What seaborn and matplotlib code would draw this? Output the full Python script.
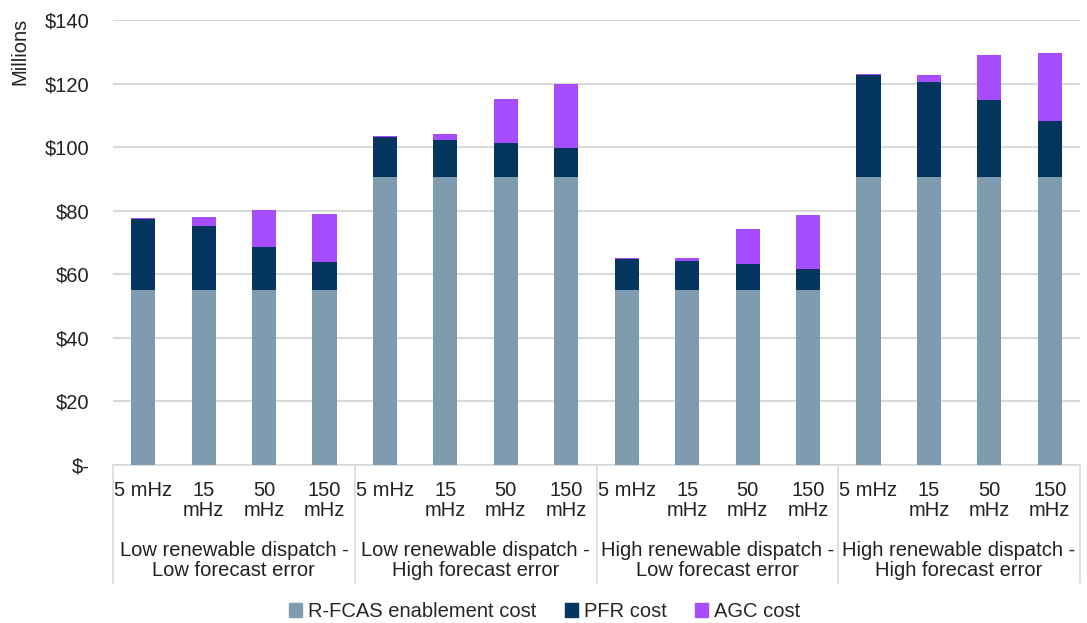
import pandas as pd
import numpy as np
import matplotlib
matplotlib.use("Agg")
import matplotlib.pyplot as plt
import seaborn as sns

# data ($ millions)
groups = ["Low renewable dispatch -\nLow forecast error",
          "Low renewable dispatch -\nHigh forecast error",
          "High renewable dispatch -\nLow forecast error",
          "High renewable dispatch -\nHigh forecast error"]
errors = ["5 mHz", "15\nmHz", "50\nmHz", "150\nmHz"]
rfcas = [55, 55, 55, 55, 90.7, 90.7, 90.7, 90.7,
         55, 55, 55, 55, 90.7, 90.7, 90.7, 90.7]
pfr = [22.4, 20.2, 13.7, 9.0, 12.5, 11.7, 10.6, 9.1,
       9.7, 9.2, 8.2, 6.7, 31.9, 29.8, 24.1, 17.6]
agc = [0.2, 2.9, 11.4, 15.1, 0.3, 1.7, 13.8, 20.0,
       0.3, 0.8, 11.2, 17.1, 0.3, 2.2, 14.2, 21.2]
yticks = [0, 20, 40, 60, 80, 100, 120, 140]
ytick_labels = ["$-", "$20", "$40", "$60", "$80", "$100", "$120", "$140"]

c_rfcas = "#7f9bb0"
c_pfr = "#04365f"
c_agc = "#a64dff"
fs = 14.5

sns.set_theme(style="white")
plt.rcParams["font.family"] = ["Liberation Sans", "DejaVu Sans"]
plt.rcParams["font.size"] = fs

df = pd.DataFrame({
    "key": [f"{g}|{e}" for g in range(len(groups)) for e in range(len(errors))],
    "rfcas": rfcas, "pfr": pfr, "agc": agc,
})
df["lvl2"] = df["rfcas"] + df["pfr"]
df["lvl3"] = df["lvl2"] + df["agc"]

fig, ax = plt.subplots(figsize=(10.87, 6.23), dpi=100)
fig.subplots_adjust(left=113 / 1087, right=1080 / 1087, top=1 - 20 / 623, bottom=1 - 465 / 623)

# stacked bars drawn as overlapping cumulative totals
for col, c in [("lvl3", c_agc), ("lvl2", c_pfr), ("rfcas", c_rfcas)]:
    sns.barplot(data=df, x="key", y=col, color=c, width=0.4, saturation=1, ax=ax,
                linewidth=0, zorder=3)

ax.set_xlim(-0.5, len(df) - 0.5)
ax.set_ylim(0, 140)
ax.set_yticks(yticks)
ax.set_yticklabels(ytick_labels)
ax.yaxis.grid(True, color="#d9d9d9", linewidth=1.5, zorder=0)
ax.set_axisbelow(True)
ax.tick_params(axis="y", length=0, pad=17, labelsize=fs, colors="#222222")
ax.set_xticks([])
ax.set_xlabel("")
ax.set_ylabel("")
for s in ["top", "right", "left"]:
    ax.spines[s].set_visible(False)
ax.spines["bottom"].set_color("#d9d9d9")
ax.spines["bottom"].set_linewidth(1.2)

# multi-level category axis
ah = 445.0
tr = ax.get_xaxis_transform()
for i in range(len(df)):
    ax.text(i, -(481 - 465) / ah, errors[i % 4], transform=tr, ha="center", va="top",
            fontsize=fs, linespacing=1.1, color="#222222")
for g in range(len(groups)):
    ax.text(g * 4 + 1.5, -(541 - 465) / ah, groups[g], transform=tr, ha="center", va="top",
            fontsize=fs, linespacing=1.1, color="#222222")
for xs in [-0.5, 3.5, 7.5, 11.5, 15.5]:
    ax.plot([xs, xs], [0, -(583 - 465) / ah], transform=tr, color="#d9d9d9",
            linewidth=1.2, clip_on=False)

fig.text(20 / 1087, 1 - 18 / 623, "Millions", rotation=90, ha="center", va="top",
         fontsize=fs, color="#222222")

handles = [plt.Rectangle((0, 0), 1, 1, color=c) for c in [c_rfcas, c_pfr, c_agc]]
fig.legend(handles, ["R-FCAS enablement cost", "PFR cost", "AGC cost"], loc="lower center",
           bbox_to_anchor=(545 / 1087, -0.026), ncol=3, frameon=False, fontsize=fs,
           handlelength=0.65, handleheight=0.65, handletextpad=0.3, columnspacing=1.4)

plt.savefig("out.png", dpi=100)
